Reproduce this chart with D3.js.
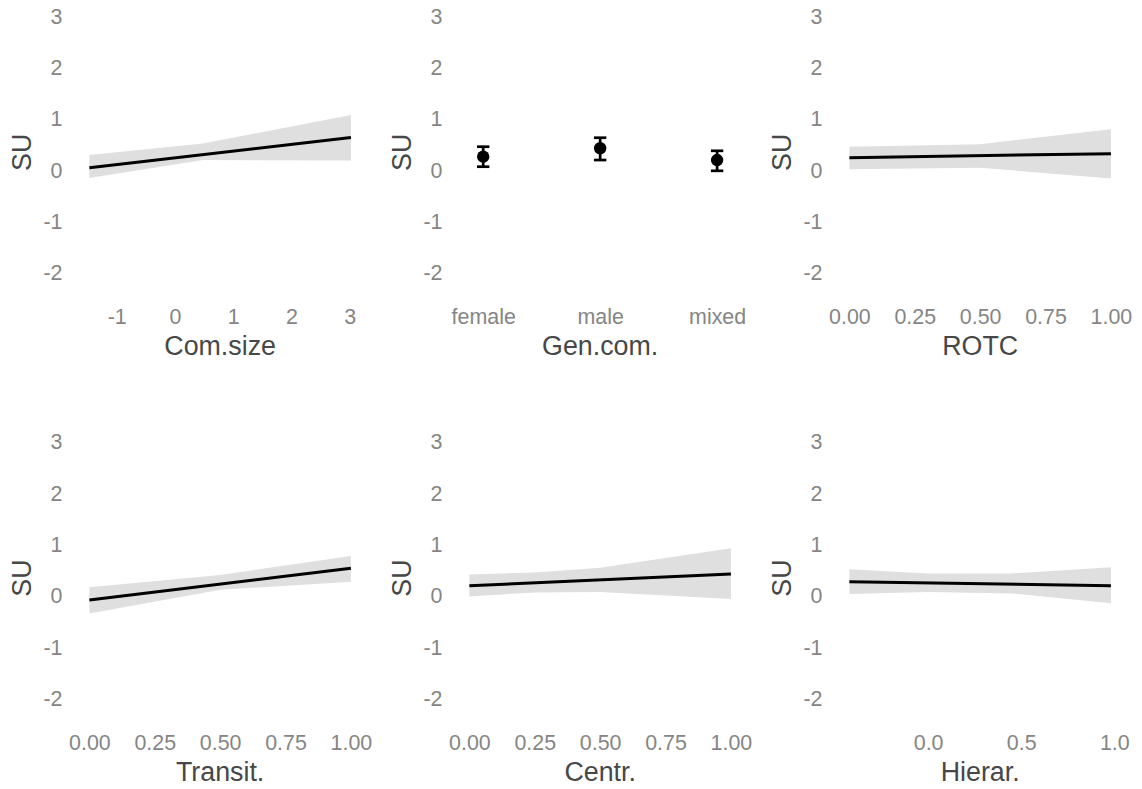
<!DOCTYPE html>
<html>
<head>
<meta charset="utf-8">
<script src="https://cdn.jsdelivr.net/npm/d3@7"></script>
<style>
  html, body { margin: 0; padding: 0; background: #ffffff; }
  svg { display: block; font-family: "Liberation Sans", Arial, Helvetica, sans-serif; }
</style>
</head>
<body>
<svg id="chart" width="1142" height="789"></svg>
<script>
// Shared y axis
const yTicks = [-2, -1, 0, 1, 2, 3];
const yDomain = [-2.5, 3.2];
const yTitle = "SU";

// Com.size: fitted line with confidence band
const comSizeLineX = [-1.47, 3.02];
const comSizeLineY = [0.05, 0.64];
const comSizeBandX = [-1.47, 0.48, 3.02];
const comSizeBandLo = [-0.15, 0.20, 0.19];
const comSizeBandHi = [0.30, 0.52, 1.08];
const comSizeTicks = [-1, 0, 1, 2, 3];

// Gen.com.: estimates with intervals per category
const genCategories = ["female", "male", "mixed"];
const genEstimate = [0.265, 0.43, 0.20];
const genLo = [0.07, 0.20, -0.01];
const genHi = [0.46, 0.635, 0.38];

// ROTC
const rotcLineX = [0, 1];
const rotcLineY = [0.245, 0.325];
const rotcBandX = [0, 0.5, 1];
const rotcBandLo = [0.02, 0.05, -0.16];
const rotcBandHi = [0.46, 0.51, 0.80];

// Transit.
const transitLineX = [0, 1];
const transitLineY = [-0.08, 0.54];
const transitBandX = [0, 0.5, 1];
const transitBandLo = [-0.34, 0.12, 0.28];
const transitBandHi = [0.17, 0.41, 0.78];

// Centr.
const centrLineX = [0, 1];
const centrLineY = [0.20, 0.43];
const centrBandX = [0, 0.25, 0.5, 1];
const centrBandLo = [-0.01, 0.07, 0.08, -0.06];
const centrBandHi = [0.42, 0.46, 0.55, 0.93];

// Hierar.
const hierarLineX = [-0.423, 0.982];
const hierarLineY = [0.28, 0.20];
const hierarBandX = [-0.423, 0.0, 0.45, 0.982];
const hierarBandLo = [0.04, 0.08, 0.05, -0.14];
const hierarBandHi = [0.52, 0.44, 0.44, 0.56];

const unitTicks = [0, 0.25, 0.5, 0.75, 1];
const halfTicks = [0, 0.5, 1];

// Layout
const panelW = 287.7;
const colLeft = [76.3, 456.3, 836.3];
const rowTop = [0, 425.7];
const panelTop = 6.14, panelBottom = 298.55;
const tickFont = 21.4, titleFont = 26.8;
const tickColor = "#858585", titleColor = "#474747";
const bandColor = "#dfdfdf";

const svg = d3.select("#chart");

function expanded(ext) {
  const pad = (ext[1] - ext[0]) * 0.05;
  return [ext[0] - pad, ext[1] + pad];
}

function frame(col, row, xTitle) {
  const left = colLeft[col], right = left + panelW;
  const g = svg.append("g").attr("transform", `translate(0,${rowTop[row]})`);
  const y = d3.scaleLinear().domain(yDomain).range([panelBottom, panelTop]);

  const ya = g.append("g")
    .attr("transform", `translate(${left},0)`)
    .call(d3.axisLeft(y).tickValues(yTicks).tickFormat(d => String(d)).tickSize(0).tickPadding(13.8));
  ya.select(".domain").remove();
  ya.selectAll("text").attr("fill", tickColor).style("font-size", tickFont + "px").style("font-family", "inherit");

  g.append("text")
    .attr("transform", `translate(${left - 45},${(y(yDomain[0]) + y(yDomain[1])) / 2}) rotate(-90)`)
    .attr("text-anchor", "middle")
    .attr("fill", titleColor)
    .style("font-size", titleFont + "px")
    .text(yTitle);

  g.append("text")
    .attr("x", (left + right) / 2)
    .attr("y", 355)
    .attr("text-anchor", "middle")
    .attr("fill", titleColor)
    .style("font-size", titleFont + "px")
    .text(xTitle);

  return { g, y, left, right };
}

function xAxis(p, scale, ticks, fmt) {
  let ax = d3.axisBottom(scale).tickSize(0).tickPadding(10.6);
  if (ticks) ax = ax.tickValues(ticks);
  if (fmt) ax = ax.tickFormat(fmt);
  const xa = p.g.append("g").attr("transform", `translate(0,${panelBottom})`).call(ax);
  xa.select(".domain").remove();
  xa.selectAll("text").attr("fill", tickColor).style("font-size", tickFont + "px").style("font-family", "inherit");
}

function fitPanel(col, row, title, lineX, lineY, bandX, bandLo, bandHi, ticks, fmt) {
  const p = frame(col, row, title);
  const x = d3.scaleLinear().domain(expanded([lineX[0], lineX[lineX.length - 1]])).range([p.left, p.right]);
  const band = bandX.map((v, i) => ({ x: v, lo: bandLo[i], hi: bandHi[i] }));
  p.g.append("path")
    .datum(band)
    .attr("fill", bandColor)
    .attr("d", d3.area().x(d => x(d.x)).y0(d => p.y(d.lo)).y1(d => p.y(d.hi)));
  const line = lineX.map((v, i) => ({ x: v, y: lineY[i] }));
  p.g.append("path")
    .datum(line)
    .attr("fill", "none")
    .attr("stroke", "#000")
    .attr("stroke-width", 3)
    .attr("d", d3.line().x(d => x(d.x)).y(d => p.y(d.y)));
  xAxis(p, x, ticks, fmt);
}

// Row 1
fitPanel(0, 0, "Com.size", comSizeLineX, comSizeLineY, comSizeBandX, comSizeBandLo, comSizeBandHi, comSizeTicks, d => String(d));

(function () {
  const p = frame(1, 0, "Gen.com.");
  const x = d3.scalePoint().domain(genCategories).range([p.left, p.right]).padding(0.23);
  const rows = genCategories.map((c, i) => ({ c, est: genEstimate[i], lo: genLo[i], hi: genHi[i] }));
  const eb = p.g.selectAll("g.eb").data(rows).join("g").attr("class", "eb");
  eb.append("line")
    .attr("x1", d => x(d.c)).attr("x2", d => x(d.c))
    .attr("y1", d => p.y(d.lo)).attr("y2", d => p.y(d.hi))
    .attr("stroke", "#000").attr("stroke-width", 2.7);
  ["lo", "hi"].forEach(k => {
    eb.append("line")
      .attr("x1", d => x(d.c) - 6.2).attr("x2", d => x(d.c) + 6.2)
      .attr("y1", d => p.y(d[k])).attr("y2", d => p.y(d[k]))
      .attr("stroke", "#000").attr("stroke-width", 2.7);
  });
  eb.append("circle")
    .attr("cx", d => x(d.c)).attr("cy", d => p.y(d.est))
    .attr("r", 6.2).attr("fill", "#000");
  xAxis(p, x);
})();

fitPanel(2, 0, "ROTC", rotcLineX, rotcLineY, rotcBandX, rotcBandLo, rotcBandHi, unitTicks, d3.format(".2f"));

// Row 2
fitPanel(0, 1, "Transit.", transitLineX, transitLineY, transitBandX, transitBandLo, transitBandHi, unitTicks, d3.format(".2f"));
fitPanel(1, 1, "Centr.", centrLineX, centrLineY, centrBandX, centrBandLo, centrBandHi, unitTicks, d3.format(".2f"));
fitPanel(2, 1, "Hierar.", hierarLineX, hierarLineY, hierarBandX, hierarBandLo, hierarBandHi, halfTicks, d3.format(".1f"));
</script>
</body>
</html>
